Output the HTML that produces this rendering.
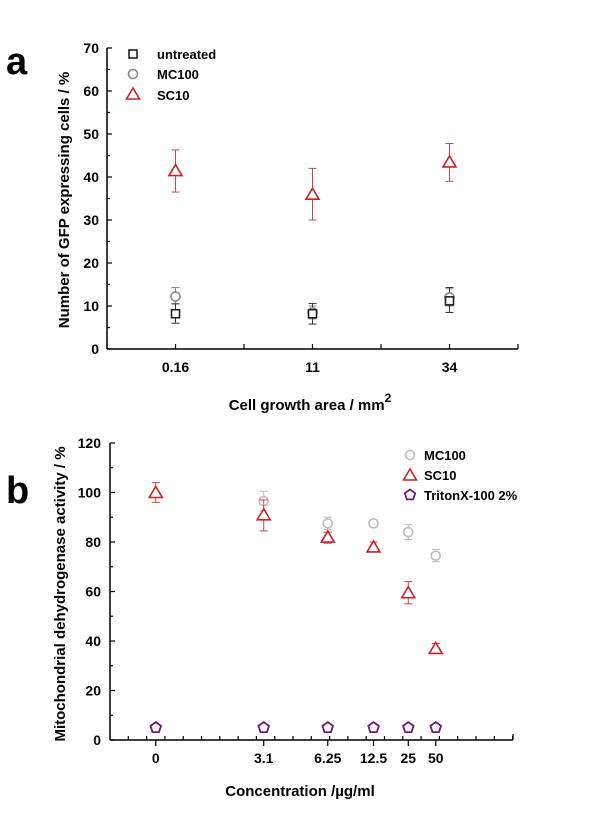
<!DOCTYPE html>
<html><head><meta charset="utf-8"><style>
body{margin:0;background:#fff;}
svg text{font-family:"Liberation Sans","DejaVu Sans",sans-serif;font-weight:bold;}
</style></head><body>
<svg id="s" width="600" height="810" xmlns="http://www.w3.org/2000/svg">
<text x="6" y="74" font-size="38">a</text>
<text x="6" y="503" font-size="38">b</text>
<g id="ga"></g>
<g id="gb"></g>
</svg>
<script>
// Chart A data
const aCats=["0.16","11","34"];
const aUntreated=[8.2,8.2,11.2], aUntrLo=[6,5.8,8.5], aUntrHi=[10.5,10.6,14.3];
const aMC=[12.2,8.5,12], aMCLo=[10.5,7,10], aMCHi=[14.3,10,14];
const aSC=[41.5,36,43.5], aSCLo=[36.5,30,39], aSCHi=[46.3,42,47.8];
const aYTicks=[0,10,20,30,40,50,60,70];
// Chart B data
const bCats=["0","3.1","6.25","12.5","25","50"];
const bSlot=[2.5,8.4,11.9,14.4,16.3,17.8];
const bMCidx=[1,2,3,4,5], bMC=[96.5,87.5,87.5,84,74.5], bMCErr=[4,2.5,1.5,3,2.5];
const bSC=[100,91,82,78,59.5,37], bSCLo=[96,84.5,79.5,76,55,35], bSCHi=[104,97,84,80,64,39];
const bTriton=[5,5,5,5,5,5];
const bYTicks=[0,20,40,60,80,100,120];

const NS="http://www.w3.org/2000/svg";
function mk(p,t,a){const e=document.createElementNS(NS,t);for(const k in a)e.setAttribute(k,a[k]);p.appendChild(e);return e;}
function txt(p,x,y,s,size,anchor,name,extra){const e=mk(p,"text",Object.assign({x:x,y:y,"font-size":size,"text-anchor":anchor||"middle"},extra||{}));e.textContent=s;


return e;}
function ebar(p,x,ylo,yhi,col,name){const g=mk(p,"g",{stroke:col,"stroke-width":1});


mk(g,"line",{x1:x,x2:x,y1:ylo,y2:yhi});mk(g,"line",{x1:x-4,x2:x+4,y1:ylo,y2:ylo});mk(g,"line",{x1:x-4,x2:x+4,y1:yhi,y2:yhi});}
function marker(p,type,x,y,col,name){let e;
if(type==="sq")e=mk(p,"rect",{x:x-4,y:y-4,width:8,height:8,fill:"#fff",stroke:col,"stroke-width":1.6});
else if(type==="ci")e=mk(p,"circle",{cx:x,cy:y,r:4.5,fill:"#fff",stroke:col,"stroke-width":1.6});
else if(type==="tr")e=mk(p,"polygon",{points:`${x},${y-6} ${x-6.5},${y+5} ${x+6.5},${y+5}`,fill:"#fff",stroke:col,"stroke-width":1.6});
else{let pts=[];for(let i=0;i<5;i++){const a=-Math.PI/2+i*2*Math.PI/5;pts.push((x+5.5*Math.cos(a)).toFixed(1)+","+(y+5.5*Math.sin(a)).toFixed(1));}
e=mk(p,"polygon",{points:pts.join(" "),fill:"#fff",stroke:col,"stroke-width":1.8});}


return e;}

// ---- Chart A
(function(){
const g=document.getElementById("ga");
const X0=107,X1=518,Y0=349,Y1=48;
const ya=v=>Y0-(v/70)*(Y0-Y1);
const xa=i=>X0+(i+0.5)*(X1-X0)/3;
mk(g,"line",{x1:X0,x2:X0,y1:Y0,y2:Y1,stroke:"#000","stroke-width":1.5});
mk(g,"line",{x1:X0,x2:X1,y1:Y0,y2:Y0,stroke:"#000","stroke-width":1.5});
for(let v=0;v<=70;v+=5){mk(g,"line",{x1:X0,x2:X0+(v%10===0?5:3),y1:ya(v),y2:ya(v),stroke:"#000","stroke-width":1.2});}
aYTicks.forEach(v=>txt(g,99,ya(v)+5,String(v),14,"end","y-tick-label"));
for(let i=0;i<=3;i++)mk(g,"line",{x1:X0+i*(X1-X0)/3,x2:X0+i*(X1-X0)/3,y1:Y0,y2:Y0-5,stroke:"#000","stroke-width":1.2});
aCats.forEach((c,i)=>{mk(g,"line",{x1:xa(i),x2:xa(i),y1:Y0,y2:Y0-5,stroke:"#000","stroke-width":1.2});txt(g,xa(i),372,c,14,"middle","x-tick-label");});
const xt=txt(g,310,410,"Cell growth area / mm",15,"middle","x-axis-title");
const sup=mk(xt,"tspan",{dy:-8,"font-size":12});sup.textContent="2";
txt(g,0,0,"Number of GFP expressing cells / %",15,"middle","y-axis-title",{transform:"translate(69,200) rotate(-90)"});
aCats.forEach((c,i)=>{
ebar(g,xa(i),ya(aSCLo[i]),ya(aSCHi[i]),"#c44","sc10-error-"+i);
ebar(g,xa(i),ya(aMCLo[i]),ya(aMCHi[i]),"#888","mc100-error-"+i);
ebar(g,xa(i),ya(aUntrLo[i]),ya(aUntrHi[i]),"#333","untreated-error-"+i);
marker(g,"ci",xa(i),ya(aMC[i]),"#888","mc100-point-"+i);
marker(g,"sq",xa(i),ya(aUntreated[i]),"#222","untreated-point-"+i);
marker(g,"tr",xa(i),ya(aSC[i]),"#c22","sc10-point-"+i);
});
marker(g,"sq",133,54,"#222","legend-untreated-marker");
txt(g,157,59,"untreated",13,"start","legend-untreated");
marker(g,"ci",133,74,"#888","legend-mc100-marker");
txt(g,157,79,"MC100",13,"start","legend-mc100");
marker(g,"tr",133,94,"#c22","legend-sc10-marker");
txt(g,157,100,"SC10",13,"start","legend-sc10");
})();

// ---- Chart B
(function(){
const g=document.getElementById("gb");
const X0=110,X1=513,Y0=740,Y1=443,U=18.3;
const yb=v=>Y0-(v/120)*(Y0-Y1);
const xb=s=>X0+s*U;
mk(g,"line",{x1:X0,x2:X0,y1:Y0,y2:Y1,stroke:"#000","stroke-width":1.5});
mk(g,"line",{x1:X0,x2:X1,y1:Y0,y2:Y0,stroke:"#000","stroke-width":1.5});
for(let v=0;v<=120;v+=10)mk(g,"line",{x1:X0,x2:X0+(v%20===0?5:3),y1:yb(v),y2:yb(v),stroke:"#000","stroke-width":1.2});
bYTicks.forEach(v=>txt(g,101,yb(v)+5,String(v),14,"end","y-tick-label"));
for(let s=1;s<=22;s++)mk(g,"line",{x1:xb(s),x2:xb(s),y1:Y0,y2:Y0-4,stroke:"#000","stroke-width":1.2});
mk(g,"line",{x1:X1,x2:X1,y1:Y0,y2:Y0-6,stroke:"#000","stroke-width":1.2});
bCats.forEach((c,i)=>{mk(g,"line",{x1:xb(bSlot[i]),x2:xb(bSlot[i]),y1:Y0,y2:Y0+6,stroke:"#000","stroke-width":1.2});txt(g,xb(bSlot[i]),763,c,14,"middle","x-tick-label");});
txt(g,300,796,"Concentration /µg/ml",15,"middle","x-axis-title");
txt(g,0,0,"Mitochondrial dehydrogenase activity / %",15,"middle","y-axis-title",{transform:"translate(65,594) rotate(-90)"});
bMCidx.forEach((idx,k)=>{const x=xb(bSlot[idx]);
ebar(g,x,yb(bMC[k]-bMCErr[k]),yb(bMC[k]+bMCErr[k]),"#bbb","mc100-error-"+k);
marker(g,"ci",x,yb(bMC[k]),"#bbb","mc100-point-"+k);});
bCats.forEach((c,i)=>{const x=xb(bSlot[i]);
ebar(g,x,yb(bSCLo[i]),yb(bSCHi[i]),"#c44","sc10-error-"+i);
marker(g,"tr",x,yb(bSC[i]),"#c22","sc10-point-"+i);
marker(g,"pe",x,yb(bTriton[i]),"#6a1a7a","triton-point-"+i);});
marker(g,"ci",410,455,"#bbb","legend-mc100-marker");
txt(g,424,460,"MC100",13,"start","legend-mc100");
marker(g,"tr",410,475,"#c22","legend-sc10-marker");
txt(g,424,480,"SC10",13,"start","legend-sc10");
marker(g,"pe",410,495,"#6a1a7a","legend-triton-marker");
txt(g,424,500,"TritonX-100 2%",13,"start","legend-triton");
})();
</script>
</body></html>
